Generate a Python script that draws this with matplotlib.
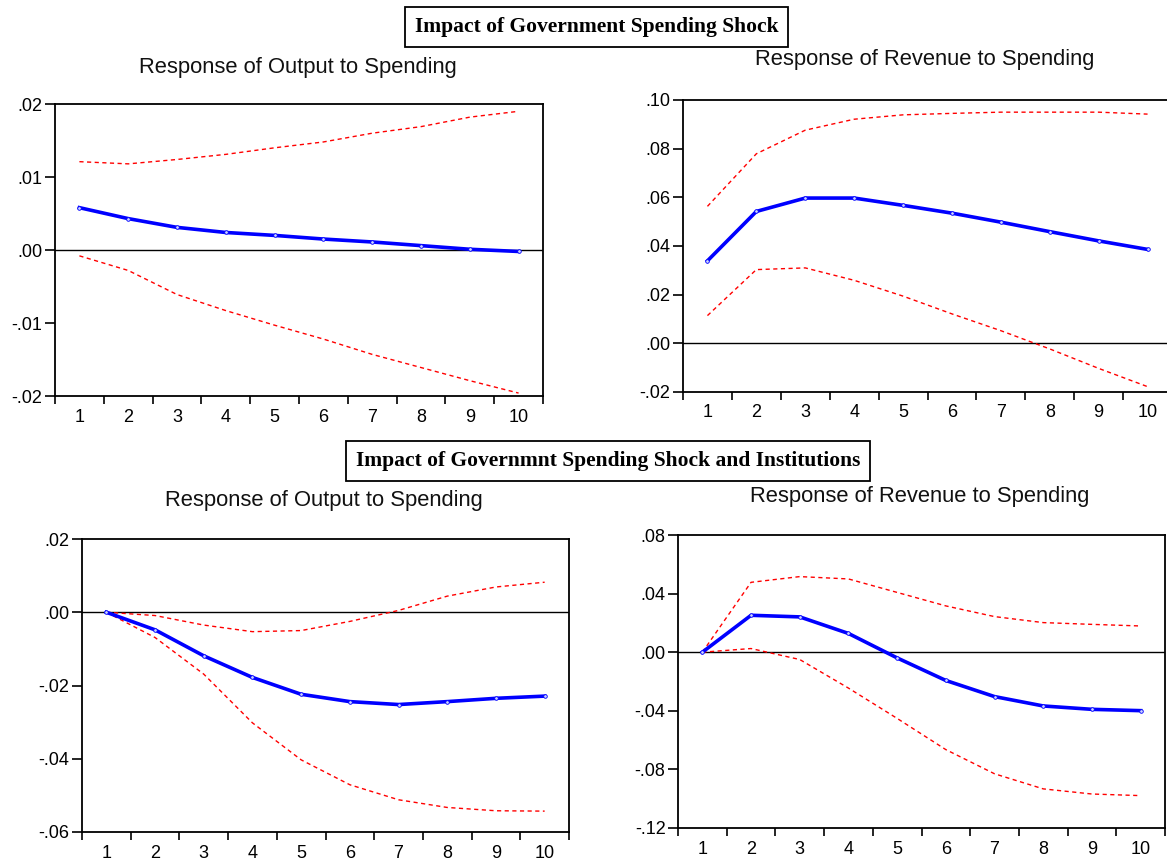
import matplotlib
matplotlib.use("Agg")
import matplotlib.pyplot as plt
from matplotlib.ticker import FixedLocator, FuncFormatter, NullFormatter
import numpy as np

periods = [1, 2, 3, 4, 5, 6, 7, 8, 9, 10]

# Top-left: Response of Output to Spending (Government Spending Shock)
tl_resp = [0.0058, 0.0043, 0.0031, 0.0024, 0.0020, 0.0015, 0.0011, 0.0006, 0.0001, -0.0002]
tl_up = [0.0121, 0.0118, 0.0124, 0.0131, 0.0140, 0.0148, 0.0160, 0.0169, 0.0182, 0.0190]
tl_lo = [-0.0008, -0.0028, -0.0061, -0.0083, -0.0103, -0.0122, -0.0143, -0.0161, -0.0179, -0.0196]

# Top-right: Response of Revenue to Spending
tr_resp = [0.0339, 0.0542, 0.0597, 0.0597, 0.0567, 0.0535, 0.0498, 0.0459, 0.0421, 0.0386]
tr_up = [0.0563, 0.0779, 0.0876, 0.0921, 0.0939, 0.0945, 0.0950, 0.0950, 0.0950, 0.0942]
tr_lo = [0.0114, 0.0303, 0.0310, 0.0259, 0.0194, 0.0121, 0.0052, -0.0023, -0.0103, -0.0178]

# Bottom-left: Response of Output to Spending (with Institutions)
bl_resp = [0.0, -0.0048, -0.0119, -0.0178, -0.0224, -0.0244, -0.0252, -0.0244, -0.0235, -0.0229]
bl_up = [0.0, -0.0009, -0.0035, -0.0053, -0.0050, -0.0025, 0.0005, 0.0044, 0.0069, 0.0082]
bl_lo = [0.0, -0.0069, -0.0169, -0.0302, -0.0403, -0.0471, -0.0512, -0.0533, -0.0542, -0.0543]

# Bottom-right: Response of Revenue to Spending (with Institutions)
br_resp = [0.0, 0.0252, 0.0241, 0.0128, -0.0039, -0.0193, -0.0303, -0.0367, -0.0390, -0.0399]
br_up = [0.0, 0.0477, 0.0516, 0.0500, 0.0408, 0.0316, 0.0243, 0.0202, 0.0190, 0.0179]
br_lo = [0.0, 0.0025, -0.0050, -0.0245, -0.0452, -0.0665, -0.0830, -0.0933, -0.0968, -0.0979]

titles = ["Response of Output to Spending", "Response of Revenue to Spending",
          "Response of Output to Spending", "Response of Revenue to Spending"]
header_top = "Impact of Government Spending Shock"
header_bottom = "Impact of Governmnt Spending Shock and Institutions"

W, H = 1167, 860
fig = plt.figure(figsize=(W / 100, H / 100), dpi=100)
fig.patch.set_facecolor("white")

def rect(l, t, r, b):
    return [l / W, 1 - b / H, (r - l) / W, (b - t) / H]

def fmt(v, pos=None):
    s = f"{v:.2f}"
    s = s.replace("0.", ".", 1)
    if s == "-.00":
        s = ".00"
    return s

panels = [
    (rect(55, 104, 543, 396), tl_resp, tl_up, tl_lo, (-0.02, 0.02), np.arange(-0.02, 0.0201, 0.01), titles[0], (298, 67)),
    (rect(683, 100, 1172, 392), tr_resp, tr_up, tr_lo, (-0.02, 0.10), np.arange(-0.02, 0.1001, 0.02), titles[1], (925, 60)),
    (rect(82, 539, 569, 832), bl_resp, bl_up, bl_lo, (-0.06, 0.02), np.arange(-0.06, 0.0201, 0.02), titles[2], (324, 500)),
    (rect(678, 535, 1165, 828), br_resp, br_up, br_lo, (-0.12, 0.08), np.arange(-0.12, 0.0801, 0.04), titles[3], (920, 497)),
]

for pos, resp, up, lo, ylim, yticks, title, tpos in panels:
    ax = fig.add_axes(pos)
    ax.axhline(0, color="black", lw=1.0, zorder=1)
    ax.plot(periods, up, color="red", lw=1.0, ls=(0, (3, 2.5)), zorder=2)
    ax.plot(periods, lo, color="red", lw=1.0, ls=(0, (3, 2.5)), zorder=2)
    ax.plot(periods, resp, color="#0000ff", lw=2.6, marker="o", ms=2.6,
            mfc="#ccd4ff", mec="#0000ff", mew=0.6, zorder=3)
    ax.set_xlim(0.5, 10.5)
    ax.set_ylim(*ylim)
    ax.xaxis.set_major_locator(FixedLocator(periods))
    ax.xaxis.set_minor_locator(FixedLocator(np.arange(0.5, 10.6, 1.0)))
    ax.xaxis.set_minor_formatter(NullFormatter())
    ax.tick_params(axis="x", which="major", length=0, pad=9, labelsize=13)
    ax.tick_params(axis="x", which="minor", length=6, width=1.2, direction="out")
    ax.yaxis.set_major_locator(FixedLocator(list(yticks)))
    ax.yaxis.set_major_formatter(FuncFormatter(fmt))
    ax.tick_params(axis="y", which="major", length=7, width=1.2, direction="out", pad=2, labelsize=13)
    for lab in ax.get_xticklabels() + ax.get_yticklabels():
        lab.set_fontfamily("Liberation Sans")
    for sp in ax.spines.values():
        sp.set_linewidth(1.3)
    fig.text(tpos[0] / W, 1 - tpos[1] / H, title, ha="center", va="center",
             fontsize=15.8, family="Liberation Sans", color="#111111")

box = dict(boxstyle="square,pad=0.45", facecolor="white", edgecolor="black", linewidth=1.3)
fig.text(597 / W, 1 - 27 / H, header_top, ha="center", va="center", fontsize=15.5,
         family="Liberation Serif", weight="bold", bbox=box)
fig.text(608 / W, 1 - 461 / H, header_bottom, ha="center", va="center", fontsize=15.5,
         family="Liberation Serif", weight="bold", bbox=box)

fig.savefig("out.png", dpi=100, facecolor="white")
